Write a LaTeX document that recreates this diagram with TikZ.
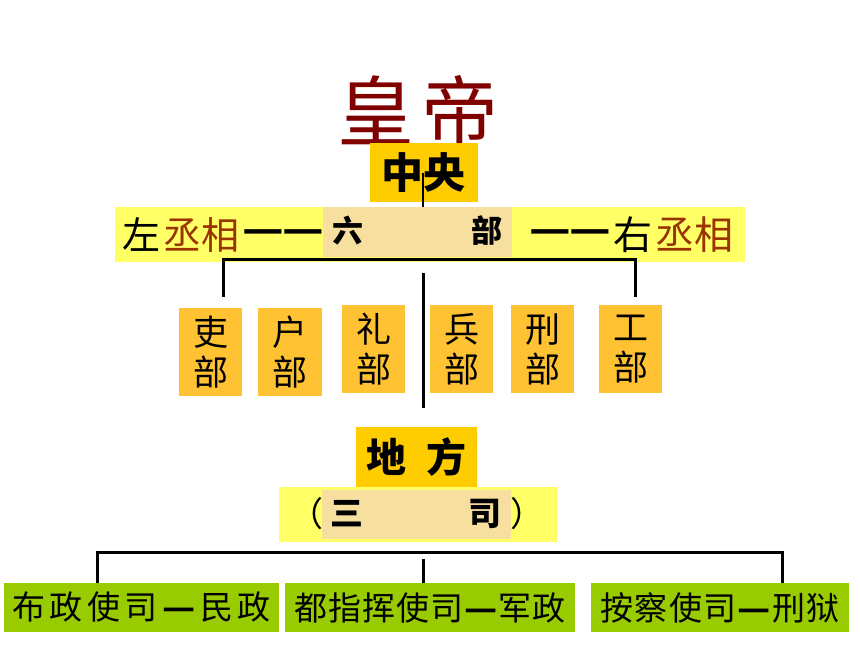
\documentclass[tikz,border=0pt]{standalone}
\usepackage{fontspec}
\usepackage{graphicx}
\setmainfont{Noto Sans CJK SC}
\definecolor{titlered}{RGB}{128,0,0}
\definecolor{brownred}{RGB}{153,51,0}
\definecolor{goldbox}{RGB}{255,204,0}
\definecolor{orangebox}{RGB}{255,194,50}
\definecolor{lightyel}{RGB}{255,255,102}
\definecolor{beigebox}{RGB}{247,223,160}
\definecolor{leafgreen}{RGB}{153,204,0}
\newcommand\fsz[2]{\fontsize{#1pt}{#2pt}\selectfont}
\newcommand\wdash[1]{\scalebox{#1}[1]{\bfseries —}}
\begin{document}
\begin{tikzpicture}[x=1pt,y=-1pt,
  fbox/.style={inner sep=0pt,outer sep=0pt,draw=none},
  txt/.style={inner sep=0pt,outer sep=0pt},
  dept/.style={fbox,fill=orangebox,minimum width=63pt,minimum height=88pt,
    align=center,font=\fsz{35}{40}},
  green/.style={fbox,fill=leafgreen,minimum height=49pt,font=\fsz{33}{33}},
  link/.style={line width=3pt,black},
  thinlink/.style={line width=2pt,black}]
\useasboundingbox[fill=white] (0,0) rectangle (860,645);
% title
\node[txt,text=titlered,font=\fsz{77}{77}] (title) at (418,111) {皇\hspace{8pt}帝};
% central
\node[fbox,fill=goldbox,minimum width=108pt,minimum height=59pt,
  font=\fsz{42}{42}\bfseries] (zy) at (423.5,172.5) {中央};
\node[fbox,fill=lightyel,minimum width=630pt,minimum height=55pt] (strip) at (430,234.5) {};
\node[fbox,fill=beigebox,minimum width=189pt,minimum height=50pt] (beige) at (417.5,232) {};
\node[txt,font=\fsz{31}{31}\bfseries] (liu) at (348,231) {六};
\node[txt,font=\fsz{31}{31}\bfseries] (bu) at (487,231) {部};
\node[txt,anchor=west,font=\fsz{38}{38}] (zcx) at (122,235) {左\hspace{3pt}\textcolor{brownred}{丞相}};
\node[txt,anchor=west,font=\fsz{40}{40}] (ldash) at (242,237) {\wdash{1.14}\hspace{-1pt}\wdash{1.14}};
\node[txt,anchor=west,font=\fsz{40}{40}] (rdash) at (529,237) {\wdash{1.14}\hspace{-1pt}\wdash{1.14}};
\node[txt,anchor=west,font=\fsz{39}{39}] (ycx) at (613,235) {右\hspace{3pt}\textcolor{brownred}{丞相}};
% six ministries
\node[dept] (li1) at (210.5,352) {吏\\部};
\node[dept,minimum width=64pt] (hu) at (290,352) {户\\部};
\node[dept] (li2) at (373.5,349) {礼\\部};
\node[dept] (bing) at (461.5,349) {兵\\部};
\node[dept] (xing) at (542.5,349) {刑\\部};
\node[dept] (gong) at (630.5,349) {工\\部};
% local
\node[fbox,fill=goldbox,minimum width=121pt,minimum height=60pt,
  font=\fsz{40}{40}\bfseries] (df) at (416.5,457) {地\hspace{20pt}方};
\node[fbox,fill=lightyel,minimum width=278pt,minimum height=55pt] (strip2) at (418,514.5) {};
\node[fbox,fill=beigebox,minimum width=189pt,minimum height=49pt] (beige2) at (416.5,514.5) {};
\node[txt,font=\fsz{34}{34}] (lp) at (306,514) {（};
\node[txt,font=\fsz{34}{34}] (rp) at (527,514) {）};
\node[txt,font=\fsz{33}{33}\bfseries] (san) at (346.5,514) {三};
\node[txt,font=\fsz{33}{33}\bfseries] (si) at (485,514) {司};
% three offices
\node[green,minimum width=275pt] (g1) at (141.5,607.5)
  {\makebox[258pt][s]{布\hfill 政\hfill 使\hfill 司\hfill \wdash{1.1}\hfill 民\hfill 政}};
\node[green,minimum width=290pt] (g2) at (430,607.5)
  {\makebox[272pt][s]{都\hfill 指\hfill 挥\hfill 使\hfill 司\hfill \wdash{1.1}\hfill 军\hfill 政}};
\node[green,minimum width=258pt] (g3) at (720,607.5)
  {\makebox[239pt][s]{按\hfill 察\hfill 使\hfill 司\hfill \wdash{1.1}\hfill 刑\hfill 狱}};
% connectors
\coordinate (zl) at (423,173);
\coordinate (tl) at (223,297);
\coordinate (tlt) at (223,259);
\coordinate (trt) at (635,259);
\coordinate (tr) at (635,297);
\coordinate (cu) at (423,273);
\coordinate (cd) at (423,408);
\coordinate (bl) at (97,583);
\coordinate (blt) at (97,552);
\coordinate (brt) at (782,552);
\coordinate (br) at (782,583);
\coordinate (bcu) at (423,559);
\coordinate (bcd) at (423,583);
\draw[thinlink] (zl) -- (zl |- strip.north);
\draw[link] (tl) -- (tlt) -- (trt) -- (tr);
\draw[link] (cu) -- (cd);
\draw[link] (bl) -- (blt) -- (brt) -- (br);
\draw[link] (bcu) -- (bcd);
\end{tikzpicture}
\end{document}
